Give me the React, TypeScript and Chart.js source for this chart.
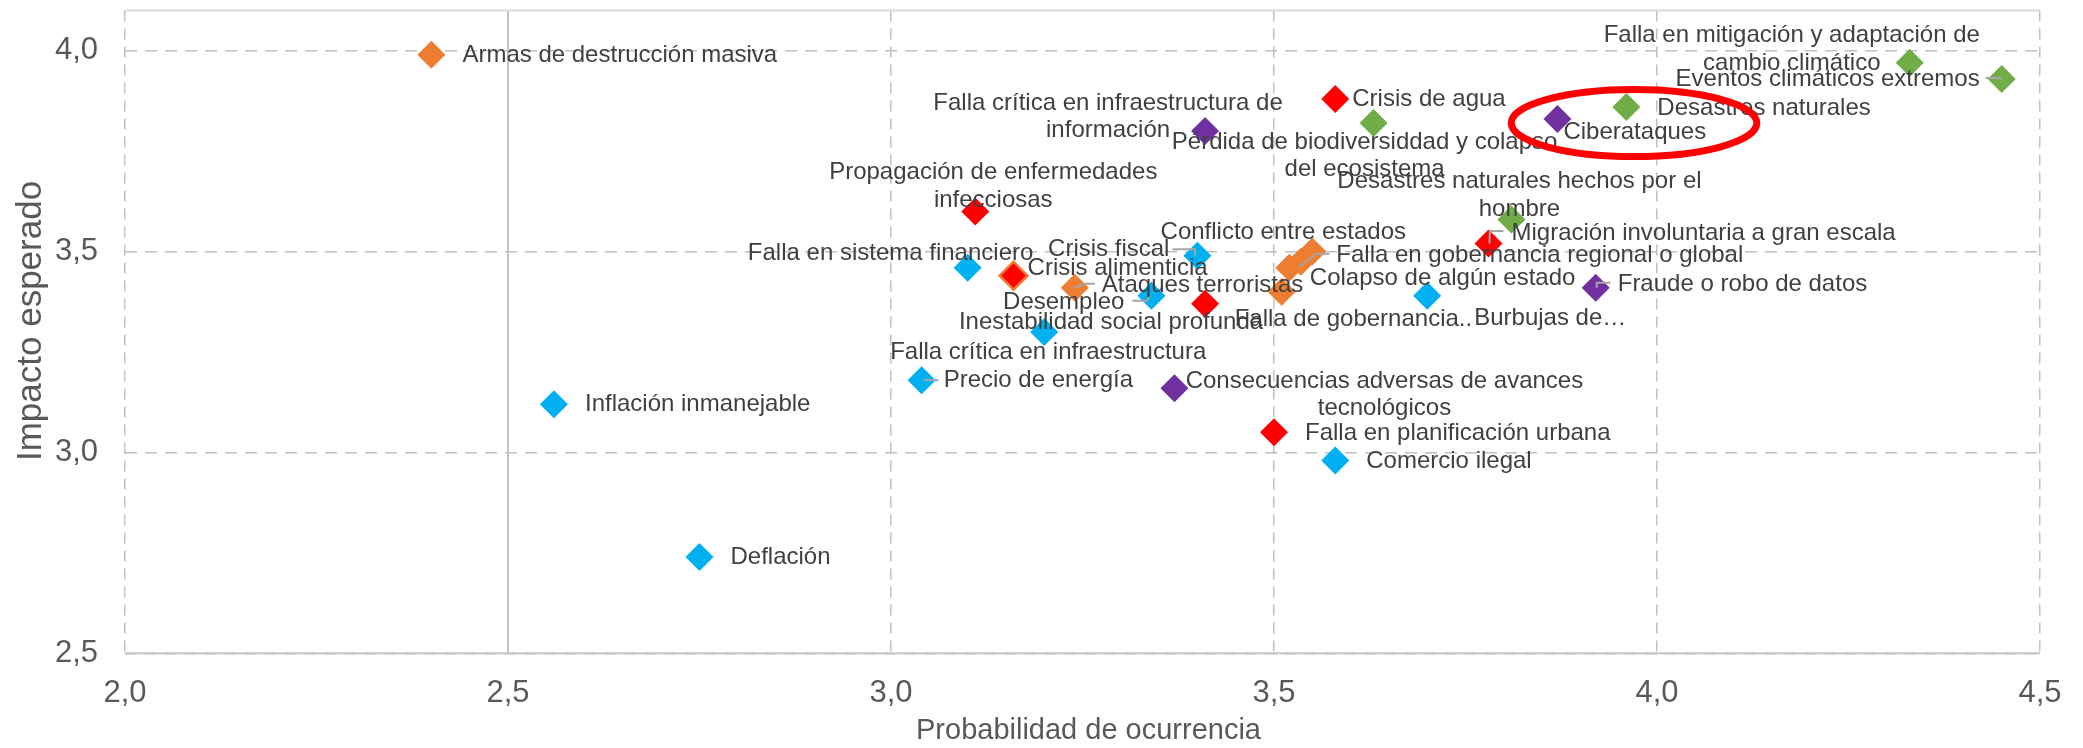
import React, { useEffect, useRef } from 'react';
import { Chart, registerables } from 'chart.js';

Chart.register(...registerables);

const FONT = "'Liberation Sans', Arial, Helvetica, sans-serif";

// ---------- Data ----------
// Económicos (azul)
const economicNames = [
  'Inflación inmanejable',
  'Deflación',
  'Precio de energía',
  'Falla crítica en infraestructura',
  'Falla en sistema financiero',
  'Desempleo',
  'Crisis fiscal',
  'Comercio ilegal',
  'Burbujas de…',
];
const economicX = [2.56, 2.75, 3.04, 3.2, 3.1, 3.34, 3.4, 3.58, 3.7];
const economicY = [3.12, 2.74, 3.18, 3.3, 3.46, 3.39, 3.49, 2.98, 3.39];

// Ambientales (verde)
const environmentalNames = [
  'Falla en mitigación y adaptación de\ncambio climático',
  'Eventos climáticos extremos',
  'Desastres naturales',
  'Pérdida de biodiversiddad y colapso\ndel ecosistema',
  'Desastres naturales hechos por el\nhombre',
];
const environmentalX = [4.33, 4.45, 3.96, 3.63, 3.81];
const environmentalY = [3.97, 3.93, 3.86, 3.82, 3.58];

// Geopolíticos (naranja)
const geopoliticalNames = [
  'Armas de destrucción masiva',
  'Ataques terroristas',
  'Conflicto entre estados',
  'Falla en gobernancia regional o global',
  'Colapso de algún estado',
  'Falla de gobernancia..',
];
const geopoliticalX = [2.4, 3.24, 3.55, 3.52, 3.535, 3.51];
const geopoliticalY = [3.99, 3.41, 3.5, 3.46, 3.475, 3.4];

// Sociales (rojo)
const societalNames = [
  'Falla en planificación urbana',
  'Crisis alimenticia',
  'Migración involuntaria a gran escala',
  'Inestabilidad social profunda',
  'Propagación de enfermedades\ninfecciosas',
  'Crisis de agua',
];
const societalX = [3.5, 3.16, 3.78, 3.41, 3.11, 3.58];
const societalY = [3.05, 3.44, 3.52, 3.37, 3.6, 3.88];

// Tecnológicos (morado)
const technologicalNames = [
  'Consecuencias adversas de avances\ntecnológicos',
  'Falla crítica en infraestructura de\ninformación',
  'Ciberataques',
  'Fraude o robo de datos',
];
const technologicalX = [3.37, 3.41, 3.87, 3.92];
const technologicalY = [3.16, 3.8, 3.83, 3.41];

// Axis settings
const xTicksMin = 2.0;
const xTicksMax = 4.5;
const yTicksMin = 2.5;
const yTicksMax = 4.1;
const tickStep = 0.5;
const verticalAxisCrossX = 2.5;

// Highlight ellipse (data units)
const ellipseCenter = { x: 3.97, y: 3.82 };
const ellipseRadius = { x: 0.1603, y: 0.0834 };

// ---------- Label layout (pixel offsets from the marker, styles) ----------
type Lay = { a: 'l' | 'r' | 'c'; dx: number; dy: number; leader?: number[][] };

const economicLayout: Lay[] = [
  { a: 'l', dx: 31, dy: 0 },
  { a: 'l', dx: 31, dy: 0 },
  { a: 'l', dx: 22, dy: 0, leader: [[2, 0], [17, 0]] },
  { a: 'c', dx: 4, dy: 20 },
  { a: 'c', dx: -77, dy: -14 },
  { a: 'r', dx: -27, dy: 7, leader: [[-19, 5], [-4, 5], [-2, 0]] },
  { a: 'r', dx: -28, dy: -6, leader: [[-25, -6.5], [-2.5, -6.5], [-2, 0]] },
  { a: 'l', dx: 31, dy: 1 },
  { a: 'l', dx: 47, dy: 23 },
];
const environmentalLayout: Lay[] = [
  { a: 'c', dx: -118, dy: -27 },
  { a: 'r', dx: -22, dy: 0, leader: [[-16, -1], [-1, -1], [-1, 1]] },
  { a: 'l', dx: 31, dy: 1 },
  { a: 'c', dx: -9, dy: 19 },
  { a: 'c', dx: 8, dy: -38 },
];
const geopoliticalLayout: Lay[] = [
  { a: 'l', dx: 31, dy: 1 },
  { a: 'l', dx: 27, dy: -2, leader: [[0, 0], [10, -4], [20, -4]] },
  { a: 'c', dx: -29, dy: -19 },
  { a: 'l', dx: 47, dy: -12, leader: [[10, -1], [27, -14], [40, -14]] },
  { a: 'l', dx: 9, dy: 17 },
  { a: 'l', dx: -47, dy: 28 },
];
const societalLayout: Lay[] = [
  { a: 'l', dx: 31, dy: 1 },
  { a: 'l', dx: 14, dy: -7 },
  { a: 'l', dx: 23, dy: -10, leader: [[15, -12.6], [1.4, -12.6], [1, 0]] },
  { a: 'c', dx: -94, dy: 19 },
  { a: 'c', dx: 18, dy: -39 },
  { a: 'l', dx: 17, dy: 0 },
];
const technologicalLayout: Lay[] = [
  { a: 'c', dx: 210, dy: -7 },
  { a: 'c', dx: -97, dy: -28 },
  { a: 'l', dx: 6, dy: 13 },
  { a: 'l', dx: 22, dy: -3, leader: [[1, 0], [1, -5], [15, -5]] },
];

const SERIES = [
  { label: 'Económicos', color: '#00B0F0', names: economicNames, xs: economicX, ys: economicY, layout: economicLayout },
  { label: 'Ambientales', color: '#70AD47', names: environmentalNames, xs: environmentalX, ys: environmentalY, layout: environmentalLayout },
  { label: 'Geopolíticos', color: '#ED7D31', names: geopoliticalNames, xs: geopoliticalX, ys: geopoliticalY, layout: geopoliticalLayout },
  { label: 'Sociales', color: '#FF0000', names: societalNames, xs: societalX, ys: societalY, layout: societalLayout },
  { label: 'Tecnológicos', color: '#7030A0', names: technologicalNames, xs: technologicalX, ys: technologicalY, layout: technologicalLayout },
];

const LABEL_FONT = `24px ${FONT}`;
const LABEL_COLOR = '#404040';
const LINE_H = 27.6;
const AXIS_TEXT = '#595959';

const fmt = (v: number) => Number(v).toFixed(1).replace('.', ',');

const decorPlugin = {
  id: 'riskDecor',
  beforeDatasetsDraw(chart: any) {
    const { ctx, chartArea: a, scales } = chart;
    const xs = scales.x;
    ctx.save();
    ctx.setLineDash([]);
    ctx.lineWidth = 2;
    ctx.strokeStyle = '#C4C4C4';
    const xc = xs.getPixelForValue(verticalAxisCrossX);
    ctx.beginPath();
    ctx.moveTo(xc, a.top);
    ctx.lineTo(xc, a.bottom);
    ctx.stroke();
    ctx.beginPath();
    ctx.moveTo(a.left, a.bottom);
    ctx.lineTo(a.right, a.bottom);
    ctx.stroke();
    ctx.strokeStyle = '#D9D9D9';
    ctx.beginPath();
    ctx.moveTo(a.left, a.top);
    ctx.lineTo(a.right, a.top);
    ctx.stroke();
    ctx.restore();
  },
  afterDatasetsDraw(chart: any) {
    const { ctx } = chart;
    ctx.save();
    // leader lines
    ctx.strokeStyle = '#A6A6A6';
    ctx.lineWidth = 2;
    ctx.setLineDash([]);
    SERIES.forEach((s, di) => {
      const meta = chart.getDatasetMeta(di);
      s.layout.forEach((L, i) => {
        if (!L.leader) return;
        const el = meta.data[i];
        ctx.beginPath();
        L.leader.forEach((p, k) => {
          const X = el.x + p[0];
          const Y = el.y + p[1];
          if (k === 0) ctx.moveTo(X, Y);
          else ctx.lineTo(X, Y);
        });
        ctx.stroke();
      });
    });
    // labels
    ctx.font = LABEL_FONT;
    ctx.fillStyle = LABEL_COLOR;
    ctx.textBaseline = 'middle';
    SERIES.forEach((s, di) => {
      const meta = chart.getDatasetMeta(di);
      s.names.forEach((name, i) => {
        const el = meta.data[i];
        const L = s.layout[i];
        ctx.textAlign = L.a === 'l' ? 'left' : L.a === 'r' ? 'right' : 'center';
        name.split('\n').forEach((ln, k) => {
          ctx.fillText(ln, el.x + L.dx, el.y + L.dy + k * LINE_H);
        });
      });
    });
    ctx.restore();
  },
  afterDraw(chart: any) {
    const { ctx, chartArea: a, scales } = chart;
    const xs = scales.x;
    const ys = scales.y;
    ctx.save();
    // highlight ellipse
    const cx = xs.getPixelForValue(ellipseCenter.x);
    const cy = ys.getPixelForValue(ellipseCenter.y);
    const rx = Math.abs(xs.getPixelForValue(ellipseCenter.x + ellipseRadius.x) - cx);
    const ry = Math.abs(ys.getPixelForValue(ellipseCenter.y + ellipseRadius.y) - cy);
    ctx.strokeStyle = '#FF0000';
    ctx.lineWidth = 7;
    ctx.beginPath();
    ctx.ellipse(cx, cy, rx, ry, 0, 0, Math.PI * 2);
    ctx.stroke();
    // axis titles
    ctx.fillStyle = AXIS_TEXT;
    ctx.font = `29px ${FONT}`;
    ctx.textAlign = 'center';
    ctx.textBaseline = 'alphabetic';
    ctx.fillText('Probabilidad de ocurrencia', (a.left + a.right) / 2 + 6, 739);
    ctx.translate(41, (a.top + a.bottom) / 2 - 11);
    ctx.rotate(-Math.PI / 2);
    ctx.font = `35px ${FONT}`;
    ctx.fillText('Impacto esperado', 0, 0);
    ctx.restore();
  },
};

export default function App() {
  const ref = useRef<HTMLCanvasElement>(null);
  useEffect(() => {
    document.body.style.margin = '0';
    const canvas = ref.current!;
    const chart = new Chart(canvas, {
      type: 'scatter',
      data: {
        datasets: SERIES.map((s) => ({
          label: s.label,
          data: s.xs.map((x, i) => ({ x, y: s.ys[i] })),
          backgroundColor: s.color,
          borderColor: s.names.map((n) => (n === 'Crisis alimenticia' ? '#ED7D31' : s.color)),
          pointBorderWidth: s.names.map((n) => (n === 'Crisis alimenticia' ? 2.5 : 0)),
          pointStyle: 'rectRot',
          pointRadius: 14,
          pointHoverRadius: 14,
          showLine: false,
          clip: false as any,
        })),
      },
      options: {
        animation: false,
        responsive: false,
        devicePixelRatio: 1,
        events: [],
        layout: { autoPadding: false, padding: { left: 0, right: 43, top: 10.6, bottom: 0 } },
        plugins: {
          legend: { display: false },
          tooltip: { enabled: false },
          title: { display: false },
        },
        scales: {
          x: {
            type: 'linear',
            min: xTicksMin,
            max: xTicksMax,
            ticks: {
              stepSize: tickStep,
              callback: (v: any) => fmt(v),
              font: { family: FONT, size: 31, lineHeight: 1.2 },
              color: AXIS_TEXT,
              padding: 22,
              maxRotation: 0,
            },
            grid: { color: '#C0C0C0', lineWidth: 1.5, drawTicks: false },
            border: { display: false, dash: [11, 7] },
            afterFit: (sc: any) => {
              sc.height = 94.7;
              sc.paddingLeft = 0;
              sc.paddingRight = 0;
            },
          },
          y: {
            type: 'linear',
            min: yTicksMin,
            max: yTicksMax,
            ticks: {
              stepSize: tickStep,
              includeBounds: false,
              callback: (v: any) => fmt(v),
              font: { family: FONT, size: 31, lineHeight: 0.6 },
              color: AXIS_TEXT,
              padding: 27,
            },
            grid: { color: '#C0C0C0', lineWidth: 1.5, drawTicks: false },
            border: { display: false, dash: [12, 8] },
            afterFit: (sc: any) => {
              sc.width = 125;
              sc.paddingTop = 0;
              sc.paddingBottom = 0;
            },
          },
        },
      },
      plugins: [decorPlugin],
    });
    return () => chart.destroy();
  }, []);
  return (
    <div style={{ position: 'absolute', left: 0, top: 0, width: 2083, height: 748 }}>
      <canvas ref={ref} width={2083} height={748} style={{ display: 'block', width: 2083, height: 748 }} />
    </div>
  );
}
